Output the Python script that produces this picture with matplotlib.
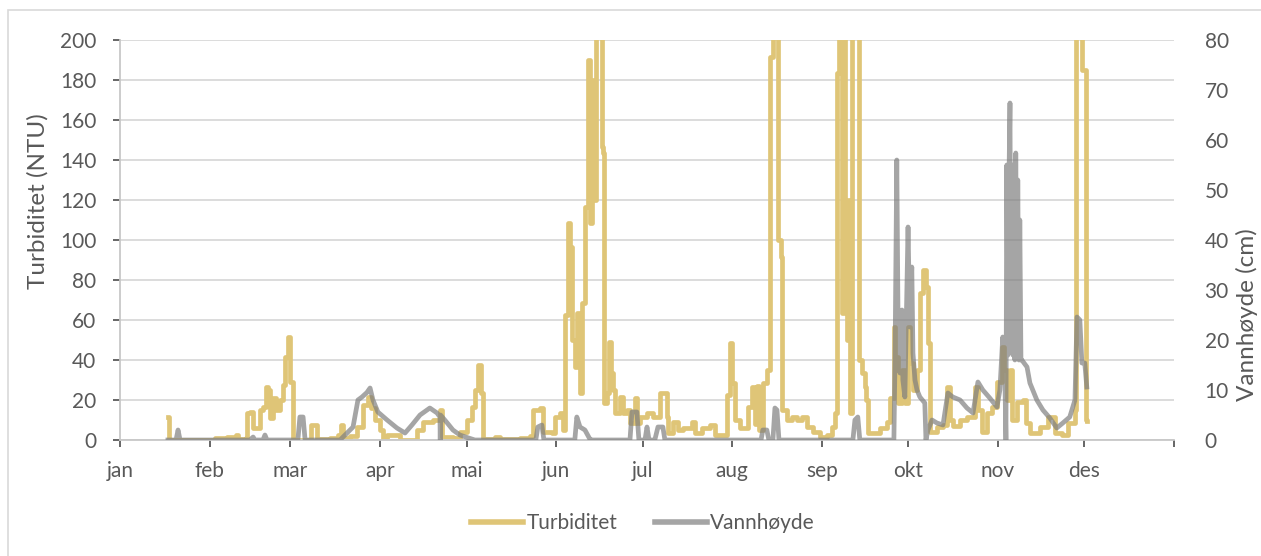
import matplotlib
matplotlib.use("Agg")
import matplotlib.pyplot as plt
from matplotlib.patches import Rectangle
from matplotlib.lines import Line2D

months = ["jan", "feb", "mar", "apr", "mai", "jun", "jul", "aug", "sep", "okt", "nov", "des"]
month_start_day = [0, 31, 59, 90, 120, 151, 181, 212, 243, 273, 304, 334, 365]

# Turbiditet (NTU) – day of year / value
turb_day = [16.6, 17.1, 31.2, 32.9, 37.1, 40.2, 40.9, 43.6, 44.0, 45.0, 46.1, 47.4, 48.5, 49.5,
            50.6, 51.3, 51.9, 53.0, 54.0, 55.4, 56.4, 57.1, 58.2, 58.9, 59.6, 59.9, 65.8, 66.1,
            67.9, 68.2, 72.7, 75.5, 76.5, 77.2, 79.6, 82.1, 84.1, 85.9, 86.9, 88.3, 90.0, 91.1,
            92.5, 95.6, 97.0, 100.4, 102.8, 104.9, 108.4, 110.8, 111.5, 115.3, 117.7, 120.2,
            121.9, 122.9, 124.0, 125.0, 125.7, 129.9, 131.6, 136.8, 138.5, 142.0, 143.0, 145.4,
            146.5, 149.6, 150.6, 152.4, 153.4, 154.1, 155.1, 155.8, 156.5, 157.6, 158.2, 159.3,
            160.0, 161.0, 162.1, 162.7, 163.4, 163.8, 164.8, 166.2, 166.9, 167.2, 167.6, 168.6,
            169.3, 170.0, 170.7, 171.4, 173.1, 174.2, 175.6, 176.6, 178.3, 179.0, 180.1, 182.5,
            184.6, 187.0, 188.7, 189.4, 189.8, 191.5, 193.2, 194.9, 198.1, 199.1, 201.5, 204.3,
            206.0, 208.8, 210.2, 211.2, 211.9, 213.0, 214.7, 217.5, 218.8, 219.9, 220.6, 221.3,
            222.7, 224.0, 225.1, 226.1, 227.2, 227.8, 228.9, 229.2, 231.0, 232.7, 234.4, 236.2,
            237.9, 240.0, 242.4, 244.8, 246.5, 247.6, 248.3, 249.0, 250.0, 250.7, 251.0, 251.7,
            252.1, 252.8, 253.5, 255.5, 255.9, 256.9, 258.0, 258.3, 259.0, 260.7, 263.2, 265.6,
            266.6, 267.3, 268.0, 268.4, 269.4, 270.8, 271.8, 272.9, 273.5, 274.6, 276.0, 277.0,
            278.0, 279.1, 279.8, 280.5, 282.9, 285.0, 286.4, 287.4, 288.4, 290.9, 293.3, 296.1,
            297.1, 298.5, 300.2, 301.9, 303.7, 305.4, 306.1, 307.1, 308.2, 308.9, 310.6, 312.7,
            313.7, 315.1, 318.6, 321.3, 323.8, 326.2, 328.3, 330.7, 331.0, 332.4, 333.1, 334.1,
            334.5, 334.8]
turb_ntu = [11.5, 0, 0, 1, 1.5, 2.5, 0.5, 1, 13.5, 14, 6, 6, 15, 16.5,
            26.5, 25, 11, 21, 15, 20, 27.5, 41.5, 51.5, 29, 29, 0, 0, 7.5,
            7.5, 0.5, 1, 2.5, 7.5, 1, 2, 6.5, 17.5, 21.5, 16, 10, 5, 0,
            2.5, 2.5, 0, 0, 5, 9, 10, 15, 1.5, 1, 4, 10,
            16.5, 25, 37.5, 23.5, 0.5, 1.5, 0.5, 0.5, 1, 2, 15, 16,
            4, 3.5, 11.5, 13.5, 5, 62.5, 108.5, 96.5, 50, 36.5, 63.5, 23.5,
            68.5, 116.5, 190, 108.5, 180, 120, 215, 215, 146.5, 143.5, 18.5, 23.5,
            49, 33.5, 25, 13.5, 21.5, 13.5, 15, 8.5, 21, 8.5, 11.5, 13.5,
            11.5, 23.5, 23.5, 11.5, 3.5, 9, 5, 6, 9, 3.5, 6, 7.5,
            2.5, 2.5, 22.5, 48.5, 28.5, 10, 6, 16.5, 26.5, 8, 27, 5,
            28.5, 35, 191.5, 215, 215, 100, 91.5, 15, 10, 11.5, 10, 11.5,
            6.5, 4, 1.5, 2.5, 6.5, 13.5, 183.5, 215, 63.5, 215, 73.5, 50,
            120, 13.5, 215, 215, 40, 33.5, 26.5, 20, 3.5, 3.5, 6, 9,
            21, 21, 56.5, 41.5, 18.5, 35, 18.5, 56.5, 38.5, 25, 35, 73.5,
            85, 76.5, 48.5, 4, 6.5, 7.5, 26.5, 10, 7, 10, 11.5, 26.5,
            15, 4, 13.5, 16.5, 29, 46.5, 35, 20, 35, 10, 19, 20,
            8.5, 3.5, 6.5, 11.5, 3.5, 2.5, 8.5, 15, 215, 215, 185, 185,
            10, 9.5]

# Vannhøyde (cm) – day of year / value
water_day = [16.6, 19.4, 20.1, 20.8, 45.0, 46.1, 46.7, 49.5, 50.2, 50.9, 61.6, 62.3, 63.4, 64.1,
             76.2, 78.6, 80.7, 82.4, 83.8, 85.5, 86.6, 87.6, 89.3, 92.5, 95.9, 98.7, 101.1,
             103.9, 107.3, 109.8, 110.8, 110.9, 111.0, 113.2, 115.3, 117.7, 120.2, 122.9, 144.0,
             144.7, 146.1, 146.8, 157.5, 158.2, 159.3, 161.0, 162.7, 163.4, 176.6, 177.3, 179.0,
             179.7, 181.8, 182.5, 183.2, 185.2, 186.3, 188.0, 188.7, 222.0, 222.6, 224.0, 224.7,
             226.1, 226.8, 227.5, 228.2, 253.8, 254.5, 255.5, 256.2, 268.0, 268.4, 269.0, 269.4,
             270.1, 270.8, 271.1, 271.8, 272.9, 273.5, 274.2, 274.6, 275.3, 276.0, 277.0, 278.7,
             279.1, 279.8, 281.2, 282.9, 285.0, 286.7, 288.4, 290.9, 293.3, 295.4, 297.1, 298.8,
             301.2, 303.7, 304.7, 305.7, 306.4, 306.8, 307.1, 307.5, 307.8, 308.2, 308.5, 308.9,
             309.2, 309.6, 309.9, 310.2, 310.6, 310.9, 311.3, 311.6, 312.0, 312.3, 314.1, 315.1,
             317.5, 319.6, 322.0, 324.4, 326.5, 328.9, 330.7, 331.4, 332.4, 333.1, 334.1, 334.8]
water_cm = [0, 0, 2, 0, 0, 0.6, 0, 0, 1, 0, 0, 4.6, 4.6, 0,
            0, 1.4, 2.6, 8, 8.6, 9.5, 10.4, 8, 5.6, 4, 2.4, 1.4, 3,
            5, 6.4, 5.4, 4.6, 0, 5, 3.5, 2, 1, 0.5, 0, 0,
            2.6, 3, 0, 0, 4.6, 2.6, 2, 0.2, 0, 0, 5.6, 5.6,
            0, 0, 2.6, 0, 0, 2.6, 2.6, 0, 0, 2, 2, 0,
            0, 6.4, 6, 0, 0, 4, 4.6, 0, 0, 16.6, 56, 26.6,
            13.4, 26, 12, 8.6, 42.6, 22.6, 34.6, 17.4, 12, 10, 8.6, 7.4,
            0, 2, 4, 3.4, 3, 9.4, 8.6, 8, 6.4, 5.4, 11.6, 10,
            8.4, 6.6, 10, 20.6, 13.6, 0, 55, 17, 50, 67.4, 18, 55,
            17, 54, 16, 57.4, 18, 52, 16, 44, 16, 16, 14.6, 11.4,
            8, 6, 4.4, 2.4, 3.4, 4.6, 8, 24.6, 24, 15.4, 15.4, 10.6]

GOLD = "#DFC577"
GRAY = "#7F7F7F"
TXT = "#595959"
GRID = "#D9D9D9"

plt.rcParams["font.family"] = ["Lato", "DejaVu Sans"]
plt.rcParams["font.size"] = 15

W, H = 1261, 556
fig = plt.figure(figsize=(W / 100, H / 100), dpi=100)
ax = fig.add_axes([120 / W, 116 / H, 1054 / W, 400 / H])

ax.plot(turb_day, turb_ntu, color=GOLD, lw=3.4, drawstyle="steps-post")
ax.set_xlim(0, 365)
ax.set_ylim(0, 200)
ax.set_yticks(range(0, 201, 20))
ax.set_xticks(month_start_day)
ax.set_xticklabels(months + [""])
ax.grid(axis="y", color=GRID, lw=1.3)
ax.set_axisbelow(True)
for s in ["top", "right"]:
    ax.spines[s].set_visible(False)
ax.spines["left"].set_color("#C8C8C8")
ax.spines["bottom"].set_color("#C8C8C8")
ax.spines["left"].set_linewidth(1.3)
ax.spines["bottom"].set_linewidth(1.3)
ax.tick_params(axis="y", colors=TXT, length=5, width=1.3, pad=12, labelsize=15)
ax.tick_params(axis="x", colors=TXT, length=5, width=1.3, pad=10, labelsize=15)
for t in ax.get_xticklines() + ax.get_yticklines():
    t.set_color("#C8C8C8")

ax2 = ax.twinx()
ax2.plot(water_day, water_cm, color=GRAY, alpha=0.7, lw=3.4, solid_joinstyle="round")
ax2.set_ylim(0, 80)
ax2.set_yticks(range(0, 81, 10))
for s in ["top", "right", "left", "bottom"]:
    ax2.spines[s].set_visible(False)
ax2.tick_params(axis="y", colors=TXT, length=0, pad=22, labelsize=15)

fig.text(38 / W, 1 - 201 / H, "Turbiditet (NTU)", rotation=90, ha="center", va="center",
         color=TXT, fontsize=17.5)
fig.text(1247 / W, 1 - 315 / H, "Vannhøyde (cm)", rotation=90, ha="center", va="center",
         color=TXT, fontsize=17.5)

handles = [Line2D([], [], color=GOLD, lw=4),
           Line2D([], [], color=GRAY, alpha=0.7, lw=4)]
leg = fig.legend(handles, ["Turbiditet", "Vannhøyde"], loc="center",
                 bbox_to_anchor=(643 / W, 1 - 523 / H), ncol=2, frameon=False,
                 handlelength=2.5, handletextpad=0.15, columnspacing=1.8, fontsize=15)
for t in leg.get_texts():
    t.set_color(TXT)

fig.add_artist(Rectangle((7.5 / W, -0.1), 1.2, 546 / H + 0.1, transform=fig.transFigure,
                         fill=False, edgecolor=GRID, lw=1.2))

fig.savefig("out.png", dpi=100)
